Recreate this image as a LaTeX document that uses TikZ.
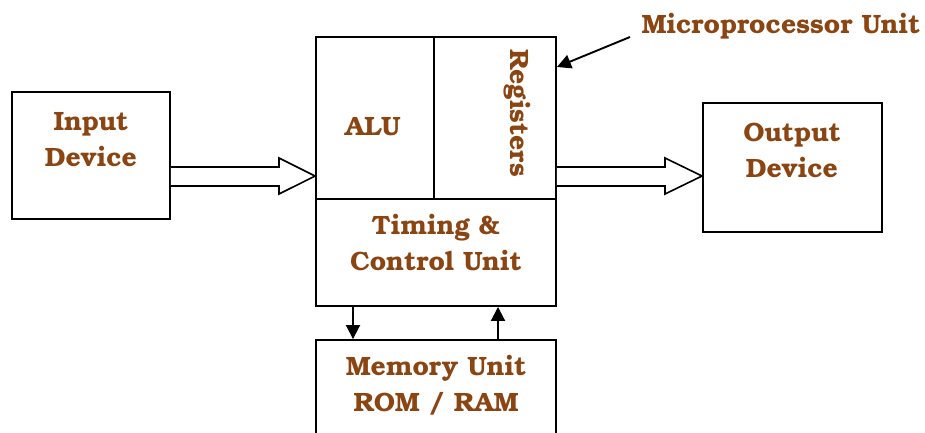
\documentclass[tikz,border=0pt]{standalone}
\usepackage{fontspec}
\setmainfont{TeX Gyre Bonum}
\usetikzlibrary{arrows.meta,calc}
\definecolor{txtbrown}{RGB}{139,69,19}
\tikzset{
  blk/.style={draw=black,line width=1.9pt,inner sep=0pt},
  lbl/.style={text=txtbrown,font=\fontsize{26.5}{36}\selectfont\bfseries,align=center},
  link/.style={line width=1.9pt,-{Triangle[length=14pt,width=14pt]}},
  fat/.style={draw=black,line width=1.6pt,fill=white,line join=miter}
}
\begin{document}
\begin{tikzpicture}[x=1pt,y=-1pt]
\useasboundingbox (0,0) rectangle (925,432);
% boxes
\node[blk,minimum width=158pt,minimum height=127pt] (in) at (91,155.5) {};
\node[blk,minimum width=240pt,minimum height=162pt] (top) at (436,118) {};
\node[blk,minimum width=240pt,minimum height=107pt] (tcu) at (436,252.5) {};
\node[blk,minimum width=179pt,minimum height=129pt] (out) at (792.5,167.5) {};
\node[blk,minimum width=240pt,minimum height=110pt] (mem) at (436,395) {};
\coordinate (divtop) at (434,37);
\coordinate (divbot) at (434,199);
\draw[line width=1.9pt] (divtop) -- (divbot);
% labels
\node[lbl] (tin) at (91,140) {Input\\Device};
\node[lbl] (talu) at (373,127) {ALU};
\node[lbl,rotate=-90] (treg) at (517,113) {Registers};
\node[lbl] (ttcu) at (436,243) {Timing \&\\Control Unit};
\node[lbl] (tout) at (792,150) {Output\\Device};
\node[lbl] (tmem) at (436,385) {Memory Unit\\ROM / RAM};
\node[lbl,anchor=center] (tmpu) at (781,26) {Microprocessor Unit};
% hollow data-flow arrows
\draw[fat] ($(in.east|-0,167)$) -- (279,167) -- (279,158) -- ($(top.west|-0,176)$)
  -- (279,194) -- (279,186) -- ($(in.east|-0,186)$);
\draw[fat] ($(top.east|-0,167)$) -- (665,167) -- (665,158) -- ($(out.west|-0,176)$)
  -- (665,194) -- (665,186) -- ($(top.east|-0,186)$);
% memory links
\draw[link] (tcu.south -| 353,0) -- (mem.north -| 353,0);
\draw[link] (mem.north -| 498,0) -- (tcu.south -| 498,0);
% pointer to the processor block
\coordinate (mpuptr) at (630,37);
\draw[link] (mpuptr) -- ($(top.east|-0,67)$);
\end{tikzpicture}
\end{document}
